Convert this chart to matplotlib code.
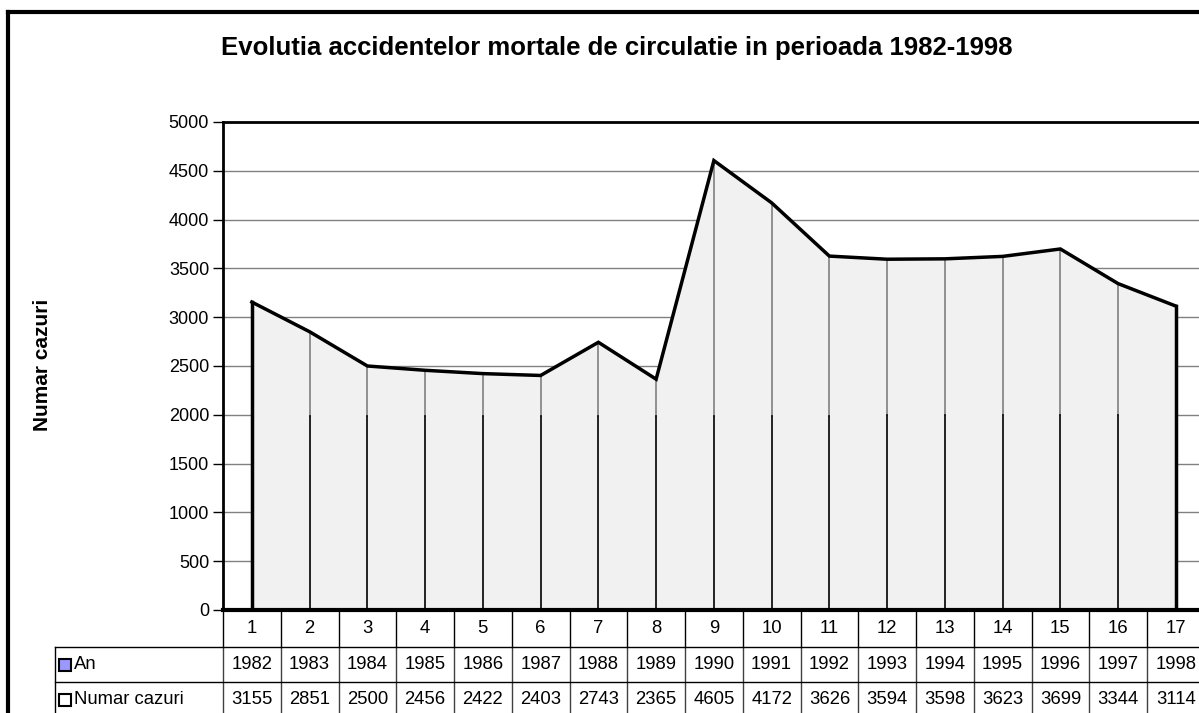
import numpy as np
import matplotlib
matplotlib.use("Agg")
import matplotlib.pyplot as plt
from matplotlib.lines import Line2D
from matplotlib.patches import Rectangle

plt.rcParams["font.family"] = ["Liberation Sans", "DejaVu Sans"]

# ── date ──────────────────────────────────────────────
categorii = list(range(1, 18))
ani = [1982, 1983, 1984, 1985, 1986, 1987, 1988, 1989, 1990,
       1991, 1992, 1993, 1994, 1995, 1996, 1997, 1998]
cazuri = [3155, 2851, 2500, 2456, 2422, 2403, 2743, 2365, 4605,
          4172, 3626, 3594, 3598, 3623, 3699, 3344, 3114]
y_ticks = list(range(0, 5001, 500))
titlu = "Evolutia accidentelor mortale de circulatie in perioada 1982-1998"
serii = ["An", "Numar cazuri"]
culori_legenda = ["#9999ff", "#ffffff"]

W, H = 1199, 713
fig = plt.figure(figsize=(W / 100, H / 100), dpi=100)


def px(x, y):
    """pixeli imagine -> coordonate figura"""
    return x / W, 1 - y / H


# zona graficului (se intinde putin dincolo de marginea dreapta)
x0, x1, y_top, y_bot = 223, 1204.75, 122, 610
ax = fig.add_axes([x0 / W, 1 - y_bot / H, (x1 - x0) / W, (y_bot - y_top) / H])
ax.set_xlim(0.5, 17.5)
ax.set_ylim(0, 5000)

x = np.array(categorii)
y = np.array(cazuri)
a = np.array(ani)

# grila
for v in y_ticks[1:-1]:
    ax.axhline(v, color="#808080", lw=1, zorder=1)

# aria
ax.fill_between(x, 0, y, color="#f1f1f1", lw=0, zorder=2)
for xi, ai, yi in zip(x[1:-1], a[1:-1], y[1:-1]):
    ax.plot([xi, xi], [ai, yi], color="#808080", lw=1.2, zorder=3)
    ax.plot([xi, xi], [0, ai], color="black", lw=1.2, zorder=3)
ax.plot(x, y, color="black", lw=2.5, zorder=4, solid_joinstyle="miter")
ax.plot([x[0], x[0]], [0, y[0]], color="black", lw=2.5, zorder=4)
ax.plot([x[-1], x[-1]], [0, y[-1]], color="black", lw=2.5, zorder=4)

ax.spines["right"].set_visible(False)
ax.spines["top"].set_linewidth(2)
ax.spines["left"].set_linewidth(2)
ax.spines["bottom"].set_linewidth(3)
ax.set_yticks(y_ticks)
ax.tick_params(axis="y", direction="out", length=7, width=1, labelsize=13, pad=3)
ax.set_xticks([])
ax.patch.set_alpha(0)

# tabelul de date sub axa
tr = ax.get_xaxis_transform()
def fy(py):
    return (y_bot - py) / (y_bot - y_top)

r1, r2, r3 = 647, 682, 717
margini = np.arange(0.5, 18.5, 1.0)
for m in margini:
    ax.plot([m, m], [fy(y_bot), fy(r1)], color="black", lw=1, transform=tr, clip_on=False)
    ax.plot([m, m], [fy(r1), fy(r3)], color="#404040", lw=1, transform=tr, clip_on=False)
for r in (r1, r2):
    fig.add_artist(Line2D([55 / W, 1], [1 - r / H, 1 - r / H], color="black", lw=1))
fig.add_artist(Line2D([55 / W, 55 / W], [1 - r1 / H, 0], color="black", lw=1))

for xi, ai, yi in zip(x, a, y):
    ax.text(xi, fy((y_bot + r1) / 2), str(xi), ha="center", va="center",
            fontsize=13.3, transform=tr, clip_on=False)
    ax.text(xi, fy((r1 + r2) / 2), str(ai), ha="center", va="center",
            fontsize=13.3, transform=tr, clip_on=False)
    ax.text(xi, fy((r2 + r3) / 2), str(yi), ha="center", va="center",
            fontsize=13.3, transform=tr, clip_on=False)

# legenda in tabel
for nume, cul, rc in zip(serii, culori_legenda, [(r1 + r2) / 2, (r2 + r3) / 2]):
    kx, ky = px(59, rc + 6)
    fig.add_artist(Rectangle((kx, ky), 12 / W, 12 / H, facecolor=cul,
                             edgecolor="black", lw=1.5, transform=fig.transFigure))
    tx, ty = px(74, rc)
    fig.text(tx, ty, nume, ha="left", va="center", fontsize=13.3)

# chenarul exterior
fig.add_artist(Line2D([8 / W, 8 / W], [0, 1 - 12 / H], color="black", lw=3))
fig.add_artist(Line2D([8 / W, 1], [1 - 12 / H, 1 - 12 / H], color="black", lw=3))

# titlu si eticheta axei Y
tx, ty = px(617, 48)
fig.text(tx, ty, titlu, ha="center", va="center", fontsize=18.5, fontweight="bold")
tx, ty = px(43, 365)
fig.text(tx, ty, "Numar cazuri", ha="center", va="center", rotation=90,
         fontsize=15, fontweight="bold")

fig.savefig("out.png", dpi=100)
